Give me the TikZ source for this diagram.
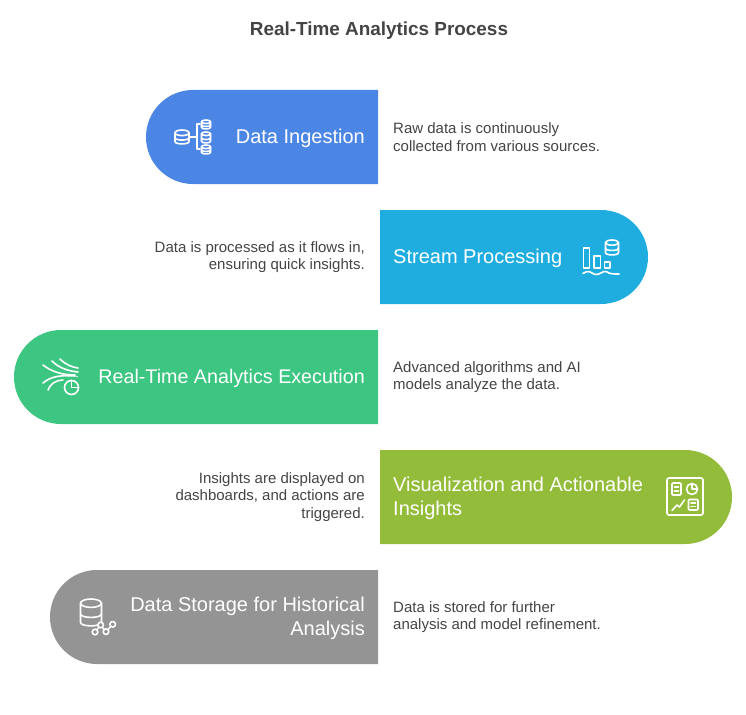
\documentclass[tikz,border=0pt]{standalone}
\usepackage{fontspec}
\setmainfont{Liberation Sans}
\definecolor{ingestblue}{HTML}{4C86E4}
\definecolor{streamblue}{HTML}{1FADDF}
\definecolor{execgreen}{HTML}{3DC682}
\definecolor{visolive}{HTML}{93BC3A}
\definecolor{storegray}{HTML}{949494}
\definecolor{textgray}{HTML}{444444}
\tikzset{
  pill/.style={rounded corners=47pt},
  steptitle/.style={text=white,font=\fontsize{20}{24}\selectfont,inner sep=0pt},
  noteleft/.style={text=textgray,font=\fontsize{15}{17.5}\selectfont,inner sep=0pt,anchor=west,align=left},
  noteright/.style={text=textgray,font=\fontsize{15}{17.5}\selectfont,inner sep=0pt,anchor=east,align=right},
  icon/.style={draw=white,line width=1.6pt,line cap=round,line join=round},
}
% cylinder: centre x, top y, half width, height
\newcommand{\dbicon}[4]{
  \draw[icon] (#1,#2+#3*0.4) ellipse ({#3} and {#3*0.4});
  \draw[icon] (#1-#3,#2+#3*0.4) -- (#1-#3,#2+#4-#3*0.35)
    .. controls (#1-#3,#2+#4+#3*0.1) and (#1+#3,#2+#4+#3*0.1) .. (#1+#3,#2+#4-#3*0.35)
    -- (#1+#3,#2+#3*0.4);
  \draw[icon] (#1-#3,#2+#4*0.55)
    .. controls (#1-#3,#2+#4*0.55+#3*0.45) and (#1+#3,#2+#4*0.55+#3*0.45) .. (#1+#3,#2+#4*0.55);
}
\begin{document}
\begin{tikzpicture}[x=1pt,y=-1pt]
\useasboundingbox (0,0) rectangle (746,714);
\node[text=textgray,font=\fontsize{18.9}{22}\selectfont\bfseries,inner sep=0pt] (title) at (379,30.5) {Real-Time Analytics Process};

% bands
\fill[ingestblue] (378,90) [pill] -- (146,90) -- (146,184) [sharp corners] -- (378,184) -- cycle;
\fill[streamblue] (380,210) [pill] -- (648,210) -- (648,304) [sharp corners] -- (380,304) -- cycle;
\fill[execgreen] (378,330) [pill] -- (14,330) -- (14,424) [sharp corners] -- (378,424) -- cycle;
\fill[visolive] (380,450) [pill] -- (732,450) -- (732,544) [sharp corners] -- (380,544) -- cycle;
\fill[storegray] (378,570) [pill] -- (50,570) -- (50,664) [sharp corners] -- (378,664) -- cycle;

% band titles
\node[steptitle,anchor=east] (ingest) at (365,138.5) {Data Ingestion};
\node[steptitle,anchor=west] (stream) at (393,258.5) {Stream Processing};
\node[steptitle,anchor=east,font=\fontsize{19.7}{24}\selectfont] (exec) at (365,378.5) {Real-Time Analytics Execution};
\node[steptitle,anchor=west,align=left] (visual) at (393,498.5) {Visualization and Actionable\\Insights};
\node[steptitle,anchor=east,align=right] (store) at (365,618.5) {Data Storage for Historical\\Analysis};

% notes
\node[noteleft] (ingestnote) at (393,137) {Raw data is continuously\\collected from various sources.};
\node[noteright] (streamnote) at (365,257) {Data is processed as it flows in,\\ensuring quick insights.};
\node[noteleft] (execnote) at (393,377) {Advanced algorithms and AI\\models analyze the data.};
\node[noteright] (visualnote) at (365,497) {Insights are displayed on\\dashboards, and actions are\\triggered.};
\node[noteleft] (storenote) at (393,617) {Data is stored for further\\analysis and model refinement.};

% ingestion icon
\dbicon{182}{130}{7}{14}
\dbicon{206}{120}{4.5}{9}
\dbicon{206}{132}{4.5}{11}
\dbicon{206}{145}{4.5}{9}
\draw[icon] (189,137) -- (197,137);
\draw[icon] (200,124) -- (197,124) -- (197,149) -- (200,149);

% stream icon
\draw[icon] (583.5,248) rectangle (589.5,268);
\draw[icon] (594,256) rectangle (600.5,268);
\draw[icon] (604.5,262) rectangle (610,268);
\dbicon{612}{240}{6.5}{15}
\draw[icon] (583,273.5) .. controls (587,271) and (589,271) .. (592,273)
  .. controls (595,275) and (597,275) .. (601,273)
  .. controls (604,271) and (606,271) .. (609,273)
  .. controls (611,274) and (615,274) .. (619,274);

% execution icon
\draw[icon] (60,359) .. controls (66,365) and (72,367) .. (78,368);
\draw[icon] (52,361) .. controls (59,368) and (68,371) .. (78,372);
\draw[icon] (43,365) .. controls (52,372) and (63,375) .. (75,375);
\draw[icon] (43,383) .. controls (51,376) and (62,375) .. (75,376);
\draw[icon] (48,390) .. controls (50,384) and (56,380) .. (63,380);
\fill[white] (77,376.5) circle (0.9);
\draw[icon] (71.5,387.5) circle (7);
\draw[icon] (71.5,380.5) -- (71.5,387.5) -- (78.5,387.5);

% visualization icon
\draw[icon,rounded corners=2pt] (667,478) rectangle (703,515);
\draw[icon,rounded corners=1pt] (672,483) rectangle (681,495);
\draw[icon] (674.5,487) -- (678.5,487) (674.5,491) -- (678.5,491);
\draw[icon] (692,489) circle (5.5);
\draw[icon] (692,483.5) -- (692,489) -- (697.5,489);
\draw[icon] (672,510.5) -- (677,505) -- (679.5,507) -- (684.5,500);
\draw[icon,rounded corners=1pt] (688.5,499.5) rectangle (698,510);
\draw[icon] (691,503) -- (695.5,503) (691,506.5) -- (695.5,506.5);

% storage icon
\dbicon{91}{599}{10.5}{27}
\draw[icon,fill=storegray] (95,632) circle (2.8);
\draw[icon,fill=storegray] (100.7,625) circle (2.8);
\draw[icon,fill=storegray] (106,631.7) circle (2.8);
\draw[icon,fill=storegray] (112.7,624.3) circle (2.8);
\draw[icon,shorten >=2.8pt,shorten <=2.8pt] (95,632) -- (100.7,625);
\draw[icon,shorten >=2.8pt,shorten <=2.8pt] (100.7,625) -- (106,631.7);
\draw[icon,shorten >=2.8pt,shorten <=2.8pt] (106,631.7) -- (112.7,624.3);
\end{tikzpicture}
\end{document}
